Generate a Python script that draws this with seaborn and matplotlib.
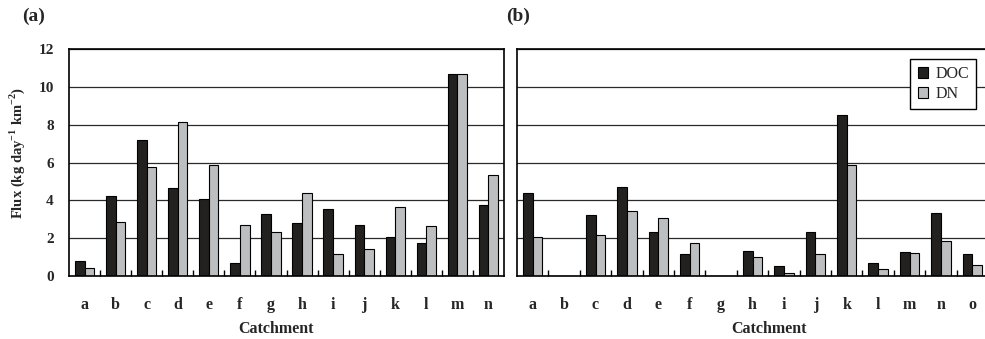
import matplotlib
matplotlib.use("Agg")
import matplotlib.pyplot as plt
from matplotlib.ticker import FixedLocator, MultipleLocator
import pandas as pd
import seaborn as sns

# Daily flux per catchment (kg day^-1 km^-2)
catchments_a = list("abcdefghijklmn")
doc_a = [0.78, 4.24, 7.18, 4.64, 4.08, 0.69, 3.26, 2.79, 3.53, 2.68, 2.08, 1.76, 10.69, 3.76]
dn_a = [0.42, 2.88, 5.75, 8.13, 5.86, 2.72, 2.33, 4.39, 1.15, 1.43, 3.65, 2.66, 10.69, 5.33]

catchments_b = list("abcdefghijklmno")
doc_b = [4.38, 0.0, 3.21, 4.69, 2.35, 1.16, 0.0, 1.32, 0.51, 2.35, 8.52, 0.69, 1.29, 3.34, 1.16]
dn_b = [2.06, 0.0, 2.19, 3.42, 3.09, 1.75, 0.0, 0.99, 0.18, 1.16, 5.86, 0.39, 1.24, 1.85, 0.60]

series_names = ["DOC", "DN"]
palette = {"DOC": "#231f20", "DN": "#bcbec0"}

sns.set_style("white")
plt.rcParams["font.family"] = ["Liberation Serif", "DejaVu Serif"]
plt.rcParams["mathtext.fontset"] = "custom"
plt.rcParams["mathtext.rm"] = "Liberation Serif"
plt.rcParams["mathtext.bf"] = "Liberation Serif:bold"


def long_table(cats, doc, dn):
    return pd.DataFrame({
        "Catchment": cats * 2,
        "Flux": doc + dn,
        "Series": [series_names[0]] * len(cats) + [series_names[1]] * len(cats),
    })


W, H = 985, 339
fig = plt.figure(figsize=(W / 100, H / 100), dpi=100)
ax_a = fig.add_axes([69 / W, 1 - 276 / H, 435 / W, 227 / H])
ax_b = fig.add_axes([517 / W, 1 - 276 / H, 471 / W, 227 / H])

panels = [
    (ax_a, long_table(catchments_a, doc_a, dn_a), catchments_a),
    (ax_b, long_table(catchments_b, doc_b, dn_b), catchments_b),
]

for ax, df, cats in panels:
    ax.set_axisbelow(True)
    sns.barplot(data=df, x="Catchment", y="Flux", hue="Series",
                hue_order=series_names, order=cats, palette=palette,
                width=0.62, edgecolor="black", linewidth=0.8,
                errorbar=None, ax=ax, legend=(ax is ax_b))
    ax.set_xlim(-0.5, len(cats) - 0.5)
    ax.set_ylim(0, 12)
    ax.yaxis.set_major_locator(MultipleLocator(2))
    ax.grid(axis="y", color="#2a2a2a", linewidth=0.9)
    ax.grid(axis="x", visible=False)
    for side in ["left", "top", "right", "bottom"]:
        ax.spines[side].set_visible(True)
        ax.spines[side].set_color("black")
        ax.spines[side].set_linewidth(1.2)
    # short upward ticks between neighbouring catchments
    ax.xaxis.set_minor_locator(FixedLocator([k + 0.5 for k in range(len(cats) - 1)]))
    ax.tick_params(axis="x", which="minor", direction="in", length=4, width=1,
                   color="black", bottom=True)
    ax.tick_params(axis="x", which="major", length=0, pad=15, labelsize=11.5)
    for lbl in ax.get_xticklabels():
        lbl.set_fontweight("bold")
    ax.set_xlabel("Catchment", fontsize=11.5, fontweight="bold")
    ax.xaxis.label.set_va("center")

ax_a.tick_params(axis="y", length=0, pad=11, labelsize=11)
for lbl in ax_a.get_yticklabels():
    lbl.set_fontweight("bold")
ax_a.set_ylabel(r"Flux (kg day$^{\mathbf{-1}}$ km$^{\mathbf{-2}}$)",
                fontsize=10.5, fontweight="bold")
ax_a.yaxis.label.set_va("center")
ax_a.yaxis.set_label_coords((17 - 69) / 435, (276 - 153) / 227)
ax_a.xaxis.set_label_coords((276 - 69) / 435, (276 - 329) / 227)

ax_b.set_ylabel("")
ax_b.tick_params(axis="y", length=0, labelleft=False)
ax_b.spines["right"].set_visible(False)
ax_b.xaxis.set_label_coords((769 - 517) / 471, (276 - 329) / 227)

leg = ax_b.legend(loc="upper right", bbox_to_anchor=((976 - 517) / 471, (276 - 59) / 227),
                  frameon=True, fancybox=False, framealpha=1, edgecolor="black",
                  prop={"family": "Liberation Serif", "size": 11.5},
                  handlelength=0.65, handleheight=0.65,
                  handletextpad=0.45, borderpad=0.45, labelspacing=0.25,
                  borderaxespad=0)
leg.get_frame().set_linewidth(1.0)
leg.set_title(None)

fig.text(22 / W, 1 - 16 / H, "(a)", fontsize=14, fontweight="bold", va="center", ha="left")
fig.text(506 / W, 1 - 16 / H, "(b)", fontsize=14, fontweight="bold", va="center", ha="left")

fig.savefig("out.png", dpi=100)
